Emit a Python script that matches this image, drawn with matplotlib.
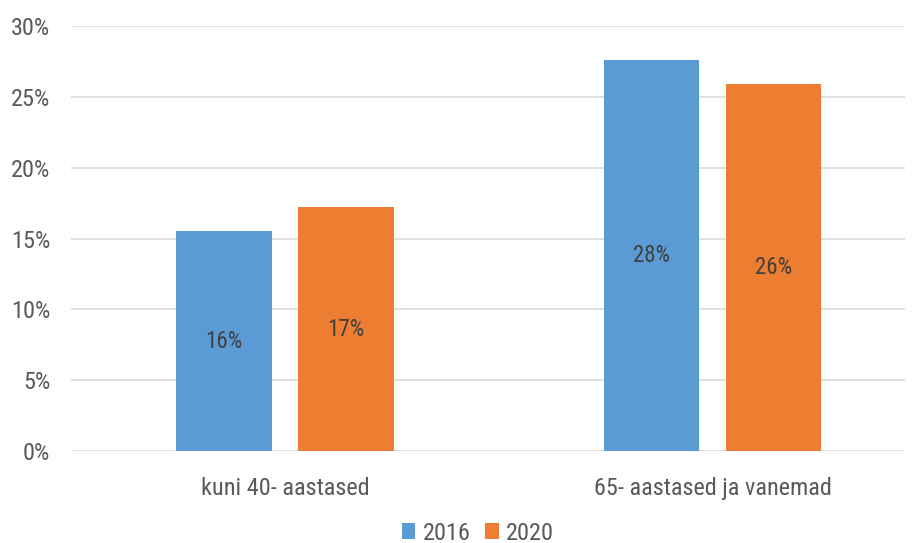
import matplotlib
matplotlib.use("Agg")
import matplotlib.pyplot as plt
from matplotlib import font_manager as fm
import numpy as np

categories = ["kuni 40- aastased", "65- aastased ja vanemad"]
series_names = ["2016", "2020"]
values_2016 = [15.5, 27.6]
values_2020 = [17.2, 25.9]
labels_2016 = ["16%", "28%"]
labels_2020 = ["17%", "26%"]
yticks = [0, 5, 10, 15, 20, 25, 30]
ytick_labels = ["0%", "5%", "10%", "15%", "20%", "25%", "30%"]

family = "DejaVu Sans"
for cand in ["Roboto Condensed", "Liberation Sans Narrow", "Roboto"]:
    try:
        fm.findfont(fm.FontProperties(family=cand), fallback_to_default=False)
        family = cand
        break
    except Exception:
        pass
plt.rcParams["font.family"] = [family, "DejaVu Sans"]

text_color = "#595959"
blue = "#5B9BD5"
orange = "#ED7D31"

fig = plt.figure(figsize=(9.15, 5.43), dpi=100)
ax = fig.add_axes([71/915, 1-451/543, (905-71)/915, (451-26)/543])

x = np.arange(len(categories))
w = 0.224
off = 0.1425
b1 = ax.bar(x - off, values_2016, w, color=blue, label=series_names[0], zorder=3)
b2 = ax.bar(x + off, values_2020, w, color=orange, label=series_names[1], zorder=3)

for bars, labs in [(b1, labels_2016), (b2, labels_2020)]:
    for r, lab in zip(bars, labs):
        ax.text(r.get_x() + r.get_width()/2, r.get_height()/2, lab,
                ha="center", va="center", fontsize=16.5, color="#404040", zorder=4)

ax.set_ylim(0, 30)
ax.set_xlim(-0.5, 1.45)
ax.set_yticks(yticks)
ax.set_yticklabels(ytick_labels)
ax.set_xticks(x)
ax.set_xticklabels(categories)
ax.tick_params(axis="both", length=0, labelsize=17.5, colors=text_color)
ax.tick_params(axis="x", pad=19)
ax.tick_params(axis="y", pad=15)
ax.grid(axis="y", color="#D9D9D9", linewidth=1.2, zorder=0)
for s in ax.spines.values():
    s.set_visible(False)

leg = fig.legend(loc="center", bbox_to_anchor=(478/915, 1-533/543), ncol=2,
                 frameon=False, fontsize=17.5, handlelength=0.55, handleheight=0.6,
                 handletextpad=0.3, columnspacing=0.6)
for t in leg.get_texts():
    t.set_color(text_color)

fig.savefig("out.png", dpi=100)
